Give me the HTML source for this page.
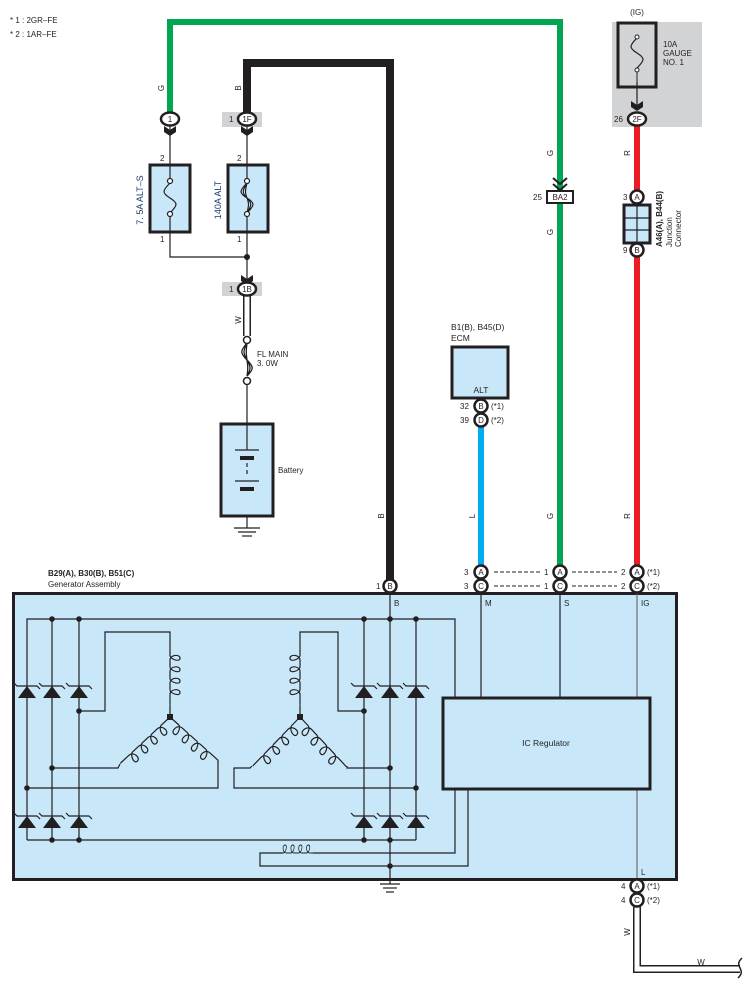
<!DOCTYPE html>
<html><head><meta charset="utf-8"><style>
html,body{margin:0;padding:0;background:#fff;}
svg{display:block;font-family:"Liberation Sans",sans-serif;}
text{font-size:8px;fill:#231f20;}
</style></head><body>
<svg width="754" height="992" viewBox="0 0 754 992" xmlns="http://www.w3.org/2000/svg">
<defs>
<g id="d"><polygon points="-9,6 9,6 0,-6" fill="#231f20"/><path d="M-13,-9 L-10,-6 H10 L13,-3" fill="none" stroke="#231f20" stroke-width="1.2"/></g>
<path id="coil" d="M0,0 h12 c4,0 8,-10 3,-10 c-5,0 -4,10 2,10 h8 c4,0 8,-10 3,-10 c-5,0 -4,10 2,10 h8 c4,0 8,-10 3,-10 c-5,0 -4,10 2,10 h8 c4,0 8,-10 3,-10 c-5,0 -4,10 2,10 h12" fill="none" stroke="#231f20" stroke-width="1.2"/>
</defs>

<text x="10" y="23">* 1 : 2GR–FE</text>
<text x="10" y="37">* 2 : 1AR–FE</text>

<rect x="612" y="22" width="90" height="105" fill="#d1d3d4"/>
<rect x="222" y="112" width="40" height="15" fill="#d1d3d4"/>
<rect x="222" y="282" width="40" height="14" fill="#d1d3d4"/>

<polyline points="170,113 170,22 560,22 560,566" fill="none" stroke="#00a651" stroke-width="6"/>
<polyline points="247,113 247,63 390,63 390,580" fill="none" stroke="#231f20" stroke-width="8"/>
<line x1="637" y1="126" x2="637" y2="566" stroke="#ed1c24" stroke-width="6"/>
<line x1="481" y1="427" x2="481" y2="566" stroke="#00aeef" stroke-width="6"/>

<line x1="247" y1="296" x2="247" y2="336" stroke="#231f20" stroke-width="8"/>
<line x1="247" y1="296" x2="247" y2="336" stroke="#fff" stroke-width="5"/>
<polyline points="637,907 637,969 740,969" fill="none" stroke="#231f20" stroke-width="8"/>
<polyline points="637,907 637,969 740,969" fill="none" stroke="#fff" stroke-width="5"/>
<path d="M742,958 c-4,4 -4,6 -2,10 c2,4 2,6 -2,10" fill="none" stroke="#231f20" stroke-width="1.5"/>

<g stroke="#231f20" fill="none" stroke-width="1.2">
<line x1="170" y1="126" x2="170" y2="166"/>
<line x1="247" y1="126" x2="247" y2="166"/>
<polyline points="170,231 170,257 247,257"/>
<line x1="247" y1="231" x2="247" y2="283"/>
<line x1="247" y1="381" x2="247" y2="424"/>
<line x1="637" y1="82" x2="637" y2="108"/>
</g>
<circle cx="247" cy="257" r="3" fill="#231f20"/>
<rect x="150" y="165" width="40" height="67" fill="#c8e8fa" stroke="#231f20" stroke-width="3"/>
<rect x="228" y="165" width="40" height="67" fill="#c8e8fa" stroke="#231f20" stroke-width="3"/>
<g stroke="#231f20" fill="none" stroke-width="1.2">
<line x1="170" y1="166" x2="170" y2="180"/><line x1="170" y1="215" x2="170" y2="231"/>
<line x1="247" y1="166" x2="247" y2="180"/><line x1="247" y1="215" x2="247" y2="231"/>
<path d="M170,183 c-8,8 -8,10 0,15 c8,5 8,7 0,15"/>
<path d="M247,183 c-8,8 -8,10 0,15 c8,5 8,7 0,15 M247,183 c-5,8 -5,10 0,15 c5,5 5,7 0,15 M247,183 c-2,8 -2,10 0,15 c2,5 2,7 0,15"/>
</g>
<g fill="#fff" stroke="#231f20" stroke-width="1.2"><circle cx="170" cy="181" r="2.5"/><circle cx="170" cy="214" r="2.5"/><circle cx="247" cy="181" r="2.5"/><circle cx="247" cy="214" r="2.5"/></g>
<text x="160" y="161">2</text><text x="160" y="242">1</text>
<text x="237" y="161">2</text><text x="237" y="242">1</text>
<text transform="translate(143,200) rotate(-90)" text-anchor="middle" style="font-size:9px;fill:#1b3f6d">7. 5A ALT–S</text>
<text transform="translate(221,200) rotate(-90)" text-anchor="middle" style="font-size:9px;fill:#1b3f6d">140A ALT</text>

<g fill="#231f20">
<path d="M164,126 l6,4 6,-4 0,6 -6,4 -6,-4z"/>
<path d="M241,126 l6,4 6,-4 0,6 -6,4 -6,-4z"/>
<path d="M241,275 l6,4 6,-4 0,6 -6,4 -6,-4z"/>
<path d="M631,101 l6,4 6,-4 0,6 -6,4 -6,-4z"/>
</g>
<g fill="#fff" stroke="#231f20" stroke-width="2.5">
<ellipse cx="170" cy="119" rx="9" ry="6.5"/>
<ellipse cx="247" cy="119" rx="9" ry="6.5"/>
<ellipse cx="247" cy="289" rx="9" ry="6.5"/>
<ellipse cx="637" cy="119" rx="9" ry="6.5"/>
</g>
<text x="170" y="122" text-anchor="middle">1</text>
<text x="247" y="122" text-anchor="middle">1F</text><text x="229" y="122">1</text>
<text x="247" y="292" text-anchor="middle">1B</text><text x="229" y="292">1</text>
<text x="637" y="122" text-anchor="middle">2F</text><text x="614" y="122">26</text>

<path d="M247,343 c-7,8 -7,10 0,17 c7,7 7,9 0,16 M247,343 c-4,8 -4,10 0,17 c4,7 4,9 0,16 M247,343 c-1,8 -1,10 0,17 c1,7 1,9 0,16" fill="none" stroke="#231f20" stroke-width="1.3"/>
<g fill="#fff" stroke="#231f20" stroke-width="1.5"><circle cx="247" cy="340" r="3.5"/><circle cx="247" cy="381" r="3.5"/></g>
<text x="257" y="357">FL MAIN</text><text x="257" y="366">3. 0W</text>

<rect x="221" y="424" width="52" height="92" fill="#c8e8fa" stroke="#231f20" stroke-width="3"/>
<g stroke="#231f20" stroke-width="1.2">
<line x1="247" y1="424" x2="247" y2="450"/>
<line x1="235" y1="450" x2="259" y2="450"/>
<line x1="240" y1="458" x2="254" y2="458" stroke-width="4"/>
<line x1="247" y1="463" x2="247" y2="467"/><line x1="247" y1="470" x2="247" y2="474"/>
<line x1="235" y1="481" x2="259" y2="481"/>
<line x1="240" y1="489" x2="254" y2="489" stroke-width="4"/>
<line x1="247" y1="516" x2="247" y2="528"/>
<line x1="234" y1="528" x2="260" y2="528"/><line x1="238" y1="532" x2="256" y2="532"/><line x1="242" y1="536" x2="252" y2="536"/>
</g>
<text x="278" y="473">Battery</text>

<text x="451" y="330" style="font-size:8.5px">B1(B), B45(D)</text>
<text x="451" y="341" style="font-size:8.5px">ECM</text>
<rect x="452" y="347" width="56" height="51" fill="#c8e8fa" stroke="#231f20" stroke-width="3"/>
<text x="481" y="393" text-anchor="middle" style="font-size:8.5px">ALT</text>

<text x="637" y="15" text-anchor="middle">(IG)</text>
<rect x="618" y="23" width="38" height="64" fill="none" stroke="#231f20" stroke-width="3"/>
<path d="M637,38 c-8,8 -8,10 0,15 c8,5 8,7 0,15" fill="none" stroke="#231f20" stroke-width="1.2"/>
<g fill="#fff" stroke="#231f20" stroke-width="1"><circle cx="637" cy="37" r="2"/><circle cx="637" cy="70" r="2"/></g>
<line x1="637" y1="72" x2="637" y2="87" stroke="#231f20" stroke-width="1"/>
<text x="663" y="47">10A</text><text x="663" y="56">GAUGE</text><text x="663" y="65">NO. 1</text>

<path d="M553,178 l7,6 7,-6 M553,184 l7,6 7,-6" fill="none" stroke="#231f20" stroke-width="2"/>
<rect x="547" y="191" width="26" height="12" fill="#fff" stroke="#231f20" stroke-width="2"/>
<text x="560" y="200" text-anchor="middle">BA2</text><text x="533" y="200">25</text>

<rect x="624" y="205" width="26" height="38" fill="#c8e8fa" stroke="#231f20" stroke-width="3"/>
<g stroke="#231f20" stroke-width="1.2"><line x1="637" y1="205" x2="637" y2="243"/><line x1="624" y1="218" x2="650" y2="218"/><line x1="624" y1="230" x2="650" y2="230"/></g>
<text transform="translate(662,247) rotate(-90)" style="font-size:8px;font-weight:bold">A46(A), B44(B)</text>
<text transform="translate(672,247) rotate(-90)">Junction</text>
<text transform="translate(681,247) rotate(-90)">Connector</text>

<g style="font-size:8px">
<text transform="translate(164,88) rotate(-90)" text-anchor="middle">G</text>
<text transform="translate(241,88) rotate(-90)" text-anchor="middle">B</text>
<text transform="translate(553,153) rotate(-90)" text-anchor="middle">G</text>
<text transform="translate(553,232) rotate(-90)" text-anchor="middle">G</text>
<text transform="translate(630,153) rotate(-90)" text-anchor="middle">R</text>
<text transform="translate(241,320) rotate(-90)" text-anchor="middle">W</text>
<text transform="translate(384,516) rotate(-90)" text-anchor="middle">B</text>
<text transform="translate(475,516) rotate(-90)" text-anchor="middle">L</text>
<text transform="translate(553,516) rotate(-90)" text-anchor="middle">G</text>
<text transform="translate(630,516) rotate(-90)" text-anchor="middle">R</text>
<text transform="translate(630,932) rotate(-90)" text-anchor="middle">W</text>
<text x="701" y="965" text-anchor="middle">W</text>
</g>

<g stroke="#231f20" stroke-width="1" stroke-dasharray="4,2">
<line x1="494" y1="572" x2="540" y2="572"/><line x1="494" y1="586" x2="540" y2="586"/>
<line x1="572" y1="572" x2="617" y2="572"/><line x1="572" y1="586" x2="617" y2="586"/>
</g>

<text x="48" y="576" style="font-size:8px;font-weight:bold">B29(A), B30(B), B51(C)</text>
<text x="48" y="587">Generator Assembly</text>
<rect x="13.5" y="593.5" width="663" height="286" fill="#c8e8fa" stroke="#231f20" stroke-width="3"/>

<g stroke="#231f20" stroke-width="1.2" fill="none">
<polyline points="27,840 27,619 455,619 455,853 260,853 260,866 468,866 468,788"/>
<line x1="27" y1="840" x2="416" y2="840"/>
<line x1="52" y1="619" x2="52" y2="840"/><line x1="79" y1="619" x2="79" y2="840"/>
<line x1="364" y1="619" x2="364" y2="840"/><line x1="390" y1="593" x2="390" y2="884"/><line x1="416" y1="619" x2="416" y2="840"/>
<polyline points="79,711 105,711 105,632 170,632 170,645"/>
<line x1="170" y1="705" x2="170" y2="717"/>
<polyline points="120,764 118,768 52,768"/>
<polyline points="218,760 218,788 27,788"/>
<polyline points="364,711 338,711 338,632 300,632 300,645"/>
<line x1="300" y1="705" x2="300" y2="717"/>
<polyline points="347,766 347,768 390,768"/>
<polyline points="252,766 250,768 234,768 234,788 416,788"/>
<line x1="481" y1="593" x2="481" y2="697"/>
<line x1="560" y1="593" x2="560" y2="697"/>
<line x1="637" y1="593" x2="637" y2="697" stroke="#6d6e71"/>
<line x1="637" y1="789" x2="637" y2="907" stroke="#6d6e71"/>
<line x1="380" y1="884" x2="400" y2="884"/><line x1="383" y1="888" x2="397" y2="888"/><line x1="386" y1="892" x2="394" y2="892"/>
</g>
<rect x="283" y="846" width="30" height="12" fill="#c8e8fa"/>
<use href="#coil" transform="translate(276,853) scale(0.6,0.8)"/>
<use href="#coil" transform="translate(170,645) rotate(90) scale(0.88,1)"/>
<use href="#coil" transform="translate(300,645) rotate(90) scale(0.88,-1)"/>
<use href="#coil" transform="translate(170,717) rotate(137)"/>
<use href="#coil" transform="translate(170,717) rotate(42) scale(0.95,-1)"/>
<use href="#coil" transform="translate(300,717) rotate(134)"/>
<use href="#coil" transform="translate(300,717) rotate(47) scale(1,-1)"/>

<use href="#d" x="27" y="692"/><use href="#d" x="52" y="692"/><use href="#d" x="79" y="692"/>
<use href="#d" x="27" y="822"/><use href="#d" x="52" y="822"/><use href="#d" x="79" y="822"/>
<use href="#d" x="364" y="692"/><use href="#d" x="390" y="692"/><use href="#d" x="416" y="692"/>
<use href="#d" x="364" y="822"/><use href="#d" x="390" y="822"/><use href="#d" x="416" y="822"/>

<g fill="#231f20">
<circle cx="52" cy="619" r="2.8"/><circle cx="79" cy="619" r="2.8"/>
<circle cx="52" cy="840" r="2.8"/><circle cx="79" cy="840" r="2.8"/>
<circle cx="79" cy="711" r="2.8"/><circle cx="52" cy="768" r="2.8"/><circle cx="27" cy="788" r="2.8"/>
<circle cx="364" cy="619" r="2.8"/><circle cx="390" cy="619" r="2.8"/><circle cx="416" cy="619" r="2.8"/>
<circle cx="364" cy="840" r="2.8"/><circle cx="390" cy="840" r="2.8"/>
<circle cx="364" cy="711" r="2.8"/><circle cx="390" cy="768" r="2.8"/><circle cx="416" cy="788" r="2.8"/>
<circle cx="390" cy="866" r="2.8"/>
<rect x="167" y="714" width="6" height="6"/><rect x="297" y="714" width="6" height="6"/>
</g>

<rect x="443" y="698" width="207" height="91" fill="#c8e8fa" stroke="#231f20" stroke-width="3"/>
<text x="546" y="746" text-anchor="middle" style="font-size:8.5px">IC Regulator</text>

<text x="394" y="606">B</text><text x="485" y="606">M</text><text x="564" y="606">S</text><text x="641" y="606">IG</text>
<text x="641" y="875">L</text>

<g fill="#fff" stroke="#231f20" stroke-width="2.5">
<circle cx="390" cy="586" r="6.5"/>
<circle cx="481" cy="572" r="6.5"/><circle cx="481" cy="586" r="6.5"/>
<circle cx="560" cy="572" r="6.5"/><circle cx="560" cy="586" r="6.5"/>
<circle cx="637" cy="572" r="6.5"/><circle cx="637" cy="586" r="6.5"/>
<circle cx="637" cy="886" r="6.5"/><circle cx="637" cy="900" r="6.5"/>
<circle cx="481" cy="406" r="6.5"/><circle cx="481" cy="420" r="6.5"/>
<circle cx="637" cy="197" r="6.5"/><circle cx="637" cy="250" r="6.5"/>
</g>
<g text-anchor="middle">
<text x="390" y="589">B</text>
<text x="481" y="575">A</text><text x="481" y="589">C</text>
<text x="560" y="575">A</text><text x="560" y="589">C</text>
<text x="637" y="575">A</text><text x="637" y="589">C</text>
<text x="637" y="889">A</text><text x="637" y="903">C</text>
<text x="481" y="409">B</text><text x="481" y="423">D</text>
<text x="637" y="200">A</text><text x="637" y="253">B</text>
</g>
<text x="376" y="589">1</text>
<text x="464" y="575">3</text><text x="464" y="589">3</text>
<text x="544" y="575">1</text><text x="544" y="589">1</text>
<text x="621" y="575">2</text><text x="621" y="589">2</text>
<text x="647" y="575">(*1)</text><text x="647" y="589">(*2)</text>
<text x="621" y="889">4</text><text x="621" y="903">4</text>
<text x="647" y="889">(*1)</text><text x="647" y="903">(*2)</text>
<text x="460" y="409">32</text><text x="460" y="423">39</text>
<text x="491" y="409">(*1)</text><text x="491" y="423">(*2)</text>
<text x="623" y="200">3</text><text x="623" y="253">9</text>
</svg>
</body></html>
